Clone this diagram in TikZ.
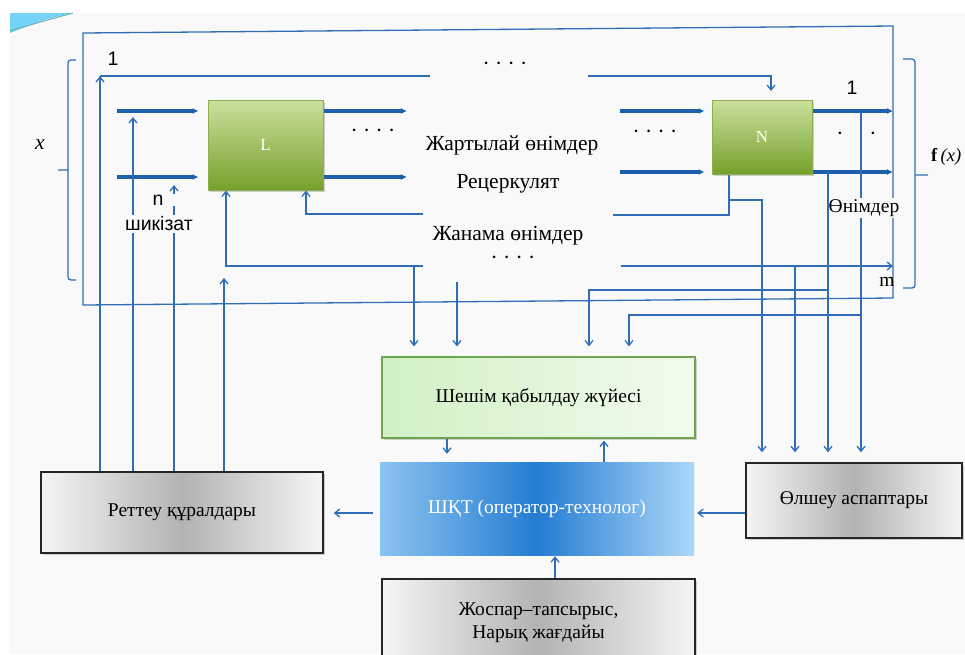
\documentclass[tikz,border=0pt]{standalone}
\usepackage{fontspec}
\setmainfont{Liberation Serif}
\setsansfont{Liberation Sans}
\usetikzlibrary{arrows.meta, shadows}
\definecolor{ln}{RGB}{47,110,182}
\definecolor{lnd}{RGB}{30,95,172}
\definecolor{bg}{RGB}{249,249,249}
\definecolor{gtop}{RGB}{202,224,156}
\definecolor{gbot}{RGB}{118,160,44}
\definecolor{gedge}{RGB}{140,176,76}
\definecolor{dl}{RGB}{208,240,196}
\definecolor{dr}{RGB}{242,251,238}
\definecolor{dedge}{RGB}{111,164,80}
\definecolor{ol}{RGB}{140,196,240}
\definecolor{om}{RGB}{36,124,210}
\definecolor{or}{RGB}{172,215,248}
\newcommand\dotrow{·\ ·\ ·\ ·}
\begin{document}
\begin{tikzpicture}[x=1pt, y=-1pt,
  ln/.style = {draw=ln, line width=1.3pt},
  lnar/.style = {ln, -{Straight Barb[length=5pt,width=8pt]}},
  fat/.style = {draw=lnd, line width=3.2pt, -{Latex[length=6pt,width=6pt]}},
  tx/.style = {font=\fontsize{21.5}{24}\selectfont, inner sep=1pt},
  sf/.style = {font=\sffamily\fontsize{19.5}{22}\selectfont, inner sep=1pt},
  shd/.style = {drop shadow={shadow xshift=2pt, shadow yshift=-2pt, opacity=.35}},
  unit/.style = {rectangle, draw=gedge, line width=1pt, top color=gtop, bottom color=gbot, text=white, font=\fontsize{17}{20}\selectfont, shd},
  grey/.style = {rectangle, draw=black!85, line width=1.5pt, left color=black!4, right color=black!4, middle color=black!30, font=\fontsize{19.5}{23}\selectfont, shd},
  decide/.style = {rectangle, draw=dedge, line width=1.2pt, left color=dl, right color=dr, font=\fontsize{19.5}{23}\selectfont, shd},
  oper/.style = {rectangle, left color=ol, right color=or, middle color=om, text=white, font=\fontsize{19.5}{23}\selectfont}]
\useasboundingbox (0,0) rectangle (965,654);
\fill[white] (0,0) rectangle (965,654);
\fill[bg] (10,13) rectangle (965,654);
\fill[cyan!55] (10,13) -- (73,13) .. controls (45,19) .. (10,33) -- cycle;
\draw[teal!60, line width=1pt] (10,31) .. controls (40,22) .. (73,13);

\node[unit, minimum width=115pt, minimum height=90pt] (L) at (265.5,145) {L};
\node[unit, minimum width=100pt, minimum height=74pt] (N) at (762,137) {N};
\node[grey, minimum width=282pt, minimum height=81pt] (reg) at (182,512.5) {Реттеу құралдары};
\node[decide, minimum width=313pt, minimum height=81pt] (dec) at (538.5,397.5) {Шешім қабылдау жүйесі};
\node[oper, minimum width=314pt, minimum height=93pt] (opr) at (537,508.5) {ШҚТ (оператор-технолог)};
\node[grey, minimum width=216pt, minimum height=75pt] (meas) at (854,500.5) {Өлшеу аспаптары};
\node[grey, minimum width=313pt, minimum height=88pt, align=center] (plan) at (538.5,623) {Жоспар–тапсырыс,\\Нарық жағдайы};

\draw[ln] (83,33) -- (893,26) -- (893,298) -- (83,305) -- cycle;
\draw[ln, rounded corners=3pt] (76,60) -- (68,60) -- (68,280) -- (76,280) (68,170) -- (58,170);
\draw[ln, rounded corners=3pt] (903,59) -- (915,59) -- (915,288) -- (903,288) (915,175) -- (928,175);

\coordinate (i1) at (117,111); \coordinate (i2) at (117,177);
\coordinate (o1) at (407,111); \coordinate (o2) at (407,177);
\coordinate (j1) at (620,111); \coordinate (j2) at (620,172);
\coordinate (p1) at (893,111); \coordinate (p2) at (893,172);
\draw[fat, shorten >=9pt] (i1) -- (i1 -| L.west);
\draw[fat, shorten >=9pt] (i2) -- (i2 -| L.west);
\draw[fat] (o1 -| L.east) -- (o1);
\draw[fat] (o2 -| L.east) -- (o2);
\draw[fat, shorten >=7pt] (j1) -- (j1 -| N.west);
\draw[fat, shorten >=7pt] (j2) -- (j2 -| N.west);
\draw[fat] (p1 -| N.east) -- (p1);
\draw[fat] (p2 -| N.east) -- (p2);

\coordinate (a1) at (100,76); \coordinate (a2) at (133,117);
\coordinate (a3) at (174,185); \coordinate (a4) at (224,278);
\foreach \c in {a1,a2,a3,a4}
  \draw[lnar] (reg.north -| \c) -- (\c);
\coordinate (t1) at (430,76); \coordinate (t2) at (588,76); \coordinate (t3) at (771,91);
\draw[ln] (a1) -- (t1);
\draw[lnar] (t2) -| (t3);

\coordinate (r1) at (423,214); \coordinate (r2) at (306,214);
\coordinate (r3) at (613,215); \coordinate (r4) at (729,215);
\coordinate (b1) at (729,200); \coordinate (b2) at (762,200);
\draw[lnar] (r1) -- (r2) -- (r2 |- L.south);
\draw[ln] (r4 |- N.south) -- (r4) -- (r3);
\draw[lnar, shorten >=10pt] (b1) -- (b2) -- (b2 |- meas.north);

\coordinate (s1) at (226,266); \coordinate (s2) at (423,266);
\coordinate (s3) at (414,266); \coordinate (s4) at (457,282);
\draw[lnar] (s2) -- (s1) -- (s1 |- L.south);
\draw[lnar, shorten >=10pt] (s3) -- (s3 |- dec.north);
\draw[lnar, shorten >=10pt] (s4) -- (s4 |- dec.north);

\coordinate (m1) at (621,266); \coordinate (m2) at (893,266); \coordinate (m3) at (795,266);
\coordinate (q1) at (828,172); \coordinate (q2) at (861,111);
\coordinate (u1) at (828,290); \coordinate (u2) at (589,290);
\coordinate (v1) at (861,315); \coordinate (v2) at (629,315);
\draw[lnar] (m1) -- (m2);
\draw[lnar, shorten >=10pt] (m3) -- (m3 |- meas.north);
\draw[lnar, shorten >=10pt] (q1) -- (q1 |- meas.north);
\draw[lnar, shorten >=10pt] (q2) -- (q2 |- meas.north);
\draw[lnar, shorten >=10pt] (u1) -- (u2) -- (u2 |- dec.north);
\draw[lnar, shorten >=10pt] (v1) -- (v2) -- (v2 |- dec.north);

\coordinate (k1) at (447,0); \coordinate (k2) at (604,0);
\coordinate (k3) at (0,513); \coordinate (k4) at (555,0);
\draw[lnar, shorten >=8pt] (dec.south -| k1) -- (opr.north -| k1);
\draw[lnar, shorten >=2pt] (opr.north -| k2) -- (dec.south -| k2);
\draw[lnar, shorten <=7pt, shorten >=10pt] (opr.west |- k3) -- (reg.east |- k3);
\draw[lnar, shorten >=3pt] (meas.west |- k3) -- (opr.east |- k3);
\draw[lnar, shorten >=1pt] (plan.north -| k4) -- (opr.south -| k4);

\node[sf] (one1) at (113,59) {1};
\node[sf, fill=bg, minimum width=38pt] (nn) at (158,200) {n};
\node[sf, fill=bg, inner sep=2pt] (raw) at (159,224) {шикізат};
\node[tx] (semi) at (512,145) {Жартылай өнімдер};
\node[tx] (recyc) at (508,184) {Рецеркулят};
\node[tx] (side) at (508,236) {Жанама өнімдер};
\node[tx] (d1) at (505,66) {\dotrow};
\node[tx] (d2) at (373,133) {\dotrow};
\node[tx] (d3) at (655,134) {\dotrow};
\node[tx] (d4) at (513,260) {\dotrow};
\node[sf] (one2) at (852,88) {1};
\node[tx] (d5) at (840,136) {·};
\node[tx] (d6) at (873,136) {·};
\node[tx, fill=bg, inner xsep=0pt, font=\fontsize{19.5}{22}\selectfont] (prod) at (864,208) {Өнімдер};
\node[tx, font=\fontsize{19.5}{22}\selectfont] (mm) at (887,282) {m};
\node[tx] (xin) at (40,145) {\textit{x}};
\node[tx, anchor=west, font=\fontsize{18.5}{21}\selectfont] (fout) at (930,157) {\textbf{f}\,\textit{(x)}};
\end{tikzpicture}
\end{document}
